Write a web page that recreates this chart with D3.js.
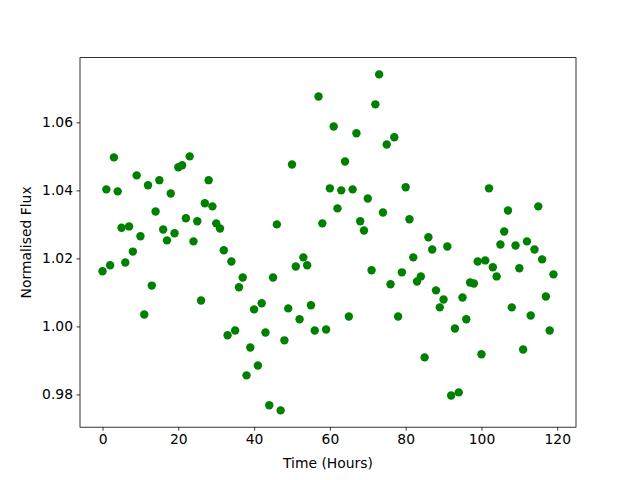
<!DOCTYPE html>
<html>
<head>
<meta charset="utf-8">
<script src="https://cdn.jsdelivr.net/npm/d3@7"></script>
<style>
body { margin: 0; background: #fff; }
text { font-family: "DejaVu Sans", sans-serif; }
</style>
</head>
<body>
<svg width="640" height="480"></svg>
<script>
// hours 0..119, one reading each
var hours = d3.range(0, 120);
var flux = [
  1.0162, 1.0403, 1.0180, 1.0497, 1.0397, 1.0290, 1.0188, 1.0294, 1.0220, 1.0444,
  1.0265, 1.0035, 1.0415, 1.0120, 1.0338, 1.0430, 1.0285, 1.0253, 1.0391, 1.0274,
  1.0468, 1.0474, 1.0318, 1.0500, 1.0250, 1.0309, 1.0076, 1.0362, 1.0430, 1.0353,
  1.0303, 1.0288, 1.0224, 0.9974, 1.0191, 0.9988, 1.0115, 1.0144, 0.9856, 0.9938,
  1.0050, 0.9885, 1.0068, 0.9982, 0.9768, 1.0144, 1.0300, 0.9753, 0.9959, 1.0053,
  1.0476, 1.0176, 1.0021, 1.0203, 1.0180, 1.0062, 0.9988, 1.0676, 1.0303, 0.9991,
  1.0406, 1.0588, 1.0347, 1.0400, 1.0485, 1.0029, 1.0403, 1.0568, 1.0309, 1.0282,
  1.0376, 1.0165, 1.0653, 1.0741, 1.0335, 1.0535, 1.0124, 1.0556, 1.0029, 1.0159,
  1.0409, 1.0315, 1.0203, 1.0132, 1.0147, 0.9909, 1.0262, 1.0226, 1.0106, 1.0056,
  1.0079, 1.0235, 0.9797, 0.9994, 0.9806, 1.0085, 1.0021, 1.0129, 1.0126, 1.0191,
  0.9918, 1.0194, 1.0406, 1.0174, 1.0147, 1.0241, 1.0279, 1.0341, 1.0056, 1.0238,
  1.0171, 0.9932, 1.0250, 1.0032, 1.0226, 1.0353, 1.0197, 1.0088, 0.9988, 1.0153
];
var xTicks = [0, 20, 40, 60, 80, 100, 120];
var yTicks = [0.98, 1.00, 1.02, 1.04, 1.06];

var svg = d3.select("svg");
var plotLeft = 80, plotRight = 576, plotTop = 57.6, plotBottom = 427.2;

// matplotlib style 5% margins
var xMin = d3.min(hours), xMax = d3.max(hours);
var yMin = d3.min(flux), yMax = d3.max(flux);
var xPad = (xMax - xMin) * 0.05, yPad = (yMax - yMin) * 0.05;

var xScale = d3.scaleLinear().domain([xMin - xPad, xMax + xPad]).range([plotLeft, plotRight]);
var yScale = d3.scaleLinear().domain([yMin - yPad, yMax + yPad]).range([plotBottom, plotTop]);

var g = svg.append("g");

g.selectAll(".dot")
  .data(hours)
  .enter()
  .append("circle")
  .attr("class", "dot")
  .attr("cx", (d) => xScale(d))
  .attr("cy", (d, i) => yScale(flux[i]))
  .attr("r", 4.2)
  .attr("fill", "#008000");

var xAxis = g.append("g")
  .attr("transform", "translate(0," + plotBottom + ")")
  .call(d3.axisBottom(xScale).tickValues(xTicks).tickSize(3.5).tickPadding(3.5).tickFormat(d3.format("d")));

var yAxis = g.append("g")
  .attr("transform", "translate(" + plotLeft + ",0)")
  .call(d3.axisLeft(yScale).tickValues(yTicks).tickSize(3.5).tickPadding(3.5).tickFormat(d3.format(".2f")));

[xAxis, yAxis].forEach(function(a) {
  a.select(".domain").remove();
  a.selectAll("text").attr("font-size", 10 * 1.389).attr("font-family", "DejaVu Sans").attr("fill", "#000");
  a.selectAll("line").attr("stroke", "#000").attr("stroke-width", 0.8);
});

// frame
g.append("rect")
  .attr("x", plotLeft).attr("y", plotTop)
  .attr("width", plotRight - plotLeft).attr("height", plotBottom - plotTop)
  .attr("fill", "none").attr("stroke", "#000").attr("stroke-width", 0.8);

svg.append("text")
  .attr("x", (plotLeft + plotRight) / 2)
  .attr("y", 468)
  .attr("text-anchor", "middle")
  .attr("font-size", 13.9)
  .text("Time (Hours)");

svg.append("text")
  .attr("transform", "translate(31," + ((plotTop + plotBottom) / 2) + ") rotate(-90)")
  .attr("text-anchor", "middle")
  .attr("font-size", 13.9)
  .text("Normalised Flux");
</script>
</body>
</html>
